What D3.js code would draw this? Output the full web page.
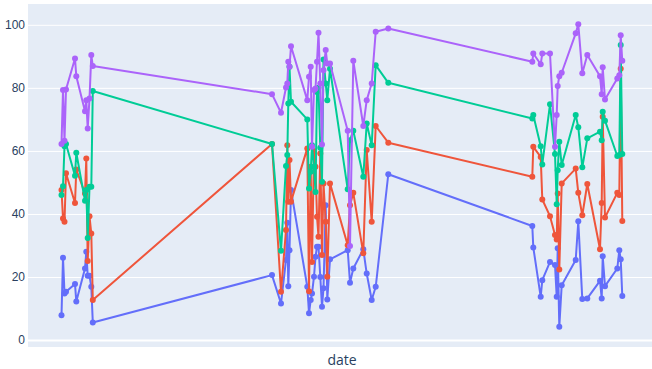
<!DOCTYPE html>
<html>
<head>
<meta charset="utf-8">
<script src="https://cdn.jsdelivr.net/npm/d3@7"></script>
<style>
  html, body { margin: 0; padding: 0; background: #fff; }
  svg { display: block; font-family: "Open Sans", "Noto Sans", sans-serif; }
</style>
</head>
<body>
<div id="chart"></div>
<script>
// days since start date, one per row of the data
const dayOffsets = [
  33.5, 35, 36.5, 38, 47, 48.3, 57, 58.3, 59.7, 61.5, 63.3, 64.8,
  244, 253, 258, 259.3, 260.3, 261.5, 263,
  279.3, 281, 282.7, 284, 286, 287.5, 289, 290.5, 292.3, 294, 295.5, 297.7, 299.3, 302,
  319.7, 322, 325.3, 335.3, 338.7, 343.7, 347.7, 360.3,
  504.3, 505.3, 512.7, 514.3, 522, 527, 528.7, 529.7, 531.3, 533.7, 547.7, 550.3,
  554.3, 559.3, 572, 573.7, 574.7, 577, 589.3, 591.3, 592.7, 594.3
];

const blueValues = [
  7.9, 26.1, 14.8, 15.3, 17.8, 12.2, 22.7, 28, 20.4, 20.4, 16.9, 5.6,
  20.6, 11.6, 25.4, 37.2, 17.1, 28.5, 47.6,
  16.9, 8.5, 12.7, 14.8, 20.1, 26.4, 29.6, 29.6, 20, 10.6, 16.4, 42.8, 12.9, 25.6,
  28.5, 18.2, 22.7, 28.8, 21.1, 12.7, 16.9, 52.6,
  36.2, 29.4, 13.7, 19, 24.8, 23.8, 13.7, 29.1, 4.2, 17.4, 25.4, 37.7,
  13, 13.2, 18.8, 13.2, 26.6, 17.1, 22.7, 28.5, 25.6, 14
];
const redValues = [
  47.6, 38.6, 37.5, 52.9, 43.5, 54.1, 46.5, 57.6, 25.1, 39.3, 33.8, 12.7,
  62.2, 15.3, 34.9, 61.8, 43.9, 57.1, 43.9,
  60.8, 15.5, 55, 24.8, 60, 55, 39.1, 32.8, 59.2, 27, 49.7, 37.5, 20.1, 49.7,
  30.1, 42.8, 46.7, 27.5, 60.3, 37.5, 67.9, 62.6,
  51.8, 61.3, 58.1, 44.6, 39.3, 33.3, 31.9, 46.5, 22.4, 49.7, 54.4, 46.7,
  39.6, 49.5, 28.8, 43.5, 70.8, 38.9, 46.7, 46, 86.1, 37.8
];
const greenValues = [
  46, 48.8, 61.5, 62.2, 52.1, 59.4, 44.2, 47.6, 32.4, 48.6, 48.6, 79,
  62.2, 28.3, 55.2, 58.7, 75, 86.7, 75.6,
  70, 48.1, 53.4, 61.8, 55, 47, 78.7, 80, 61, 50.2, 89, 81.4, 76.1, 86.1,
  47.8, 63.4, 66.4, 51.8, 68.7, 61.8, 87.2, 81.6,
  70.3, 71.4, 61.5, 55.7, 74.8, 59, 43.1, 53.9, 62.9, 55.5, 71.4, 67.5,
  54.8, 64, 66.1, 63.4, 72.4, 69.6, 58.4, 58.7, 93.6, 59
];
const purpleValues = [
  62.2, 79.3, 63.2, 79.5, 89.3, 83.7, 72.6, 76.1, 67.1, 76.6, 90.4, 86.9,
  78, 72.1, 80.1, 81.4, 88.3, 86.7, 93.2,
  76.1, 83.5, 86.7, 61.3, 79.3, 79.8, 88.3, 97.5, 81.4, 62, 85.6, 92, 87.7, 87.7,
  66.4, 29.8, 88.6, 67.9, 76.1, 81.4, 97.8, 98.8,
  88.3, 90.9, 87.5, 90.9, 90.9, 61.3, 71.4, 80.6, 83.7, 84.8, 97.3, 100.2,
  84.6, 90.4, 83.7, 78, 86.5, 76.3, 83, 84, 96.7, 88.6
];

const yTicks = [0, 20, 40, 60, 80, 100];

const width = 652, height = 369;
const margin = {top: 4, right: -4, bottom: 22, left: 28};
const innerW = width - margin.left - margin.right;
const innerH = height - margin.top - margin.bottom;

const start = new Date(2021, 0, 1);
const dates = dayOffsets.map(d => d3.timeHour.offset(start, Math.round(d * 24)));

// plotly default colours, drawn in trace order
const series = [
  {name: 'blue', values: blueValues, color: '#636efa'},
  {name: 'red', values: redValues, color: '#EF553B'},
  {name: 'green', values: greenValues, color: '#00cc96'},
  {name: 'purple', values: purpleValues, color: '#ab63fa'}
];

const svg = d3.select('#chart').append('svg')
  .attr('width', width)
  .attr('height', height);

const x = d3.scaleTime()
  .domain([start, d3.timeDay.offset(start, 628)])
  .range([0, innerW]);
const y = d3.scaleLinear()
  .domain([-2.2, 106.6])
  .range([innerH, 0]);

svg.append('defs').append('clipPath').attr('id', 'clip')
  .append('rect').attr('width', innerW).attr('height', innerH);

const g = svg.append('g')
  .attr('transform', `translate(${margin.left},${margin.top})`);

g.append('rect')
  .attr('width', innerW)
  .attr('height', innerH)
  .attr('fill', '#E5ECF6');

// gridlines + y labels
const yAxis = g.append('g')
  .call(d3.axisLeft(y).tickValues(yTicks).tickSize(-innerW).tickPadding(3));
yAxis.select('.domain').remove();
yAxis.selectAll('.tick line')
  .attr('stroke', '#fff')
  .attr('stroke-width', d => d === 0 ? 2 : 1);
yAxis.selectAll('.tick text')
  .attr('fill', '#2a3f5f')
  .attr('font-size', 12)
  .attr('x', -3);

const plot = g.append('g').attr('clip-path', 'url(#clip)');

const line = d3.line()
  .x((d, i) => x(dates[i]))
  .y(d => y(d));

series.forEach(s => {
  const sg = plot.append('g').attr('class', 'trace');
  sg.append('path')
    .datum(s.values)
    .attr('fill', 'none')
    .attr('stroke', s.color)
    .attr('stroke-width', 2)
    .attr('stroke-linejoin', 'round')
    .attr('d', line);
  sg.selectAll('circle')
    .data(s.values)
    .join('circle')
    .attr('cx', (d, i) => x(dates[i]))
    .attr('cy', d => y(d))
    .attr('r', 3)
    .attr('fill', s.color);
});

// x axis title (no tick labels in the original)
svg.append('text')
  .attr('x', margin.left + innerW / 2)
  .attr('y', height - 4)
  .attr('text-anchor', 'middle')
  .attr('fill', '#2a3f5f')
  .attr('font-size', 14)
  .text('date');
</script>
</body>
</html>
